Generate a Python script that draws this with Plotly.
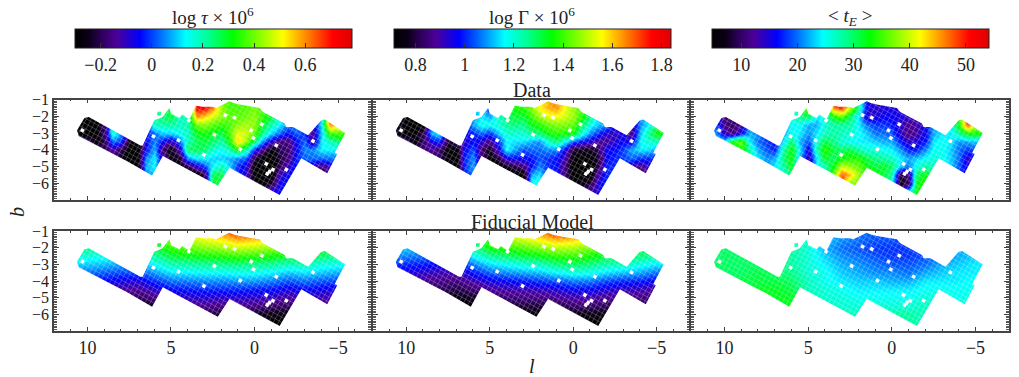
import numpy as np
import plotly.graph_objects as go

W, H = 1019, 377
SERIF = "Liberation Serif"

L_COARSE = [11, 10, 9, 8, 7, 6, 5, 4, 3, 2, 1, 0, -1, -2, -3, -4, -5, -6]
L_FINE = [11,10.5,10,9.5,9,8.5,8,7.5,7,6.5,6,5.5,5,4.5,4,3.5,3,2.5,2,1.5,1,.5,0,-.5,-1,-1.5,-2,-2.5,-3,-3.5,-4,-4.5,-5,-5.5,-6]
B_ROWS = [-1, -1.5, -2, -2.5, -3, -3.5, -4, -4.5, -5, -5.5, -6, -6.5, -7]

# data maps: one entry per L_FINE column = (index of first B_ROWS row read, values read downward)
TAU_DATA = [
 (4,[-.3,-.2]),(4,[-.3,-.18]),(3,[-.3,-.3,-.16]),(3,[-.3,-.3,-.28,-.16]),(4,[-.17,-.2,-.2]),
 (4,[.18,.03,-.12,-.18]),(4,[.05,0,-.2,-.25]),(4,[-.1,-.28,-.3,-.3]),(5,[-.28,-.3,-.3,-.3]),
 (4,[-.05,-.05,-.05,.05,.08,.05]),(3,[.2,.03,.05,.08,.13,.13,.1]),(2,[.25,.2,.1,-.05,-.18,-.1]),
 (2,[.28,.22,.1,-.12,-.28,-.25]),(3,[.18,.15,.03,-.1,-.25,-.25]),(3,[.2,.18,.2,.26,.05,-.22,-.3]),
 (1,[.72,.6,.4,.3,.26,.27,.12,-.1,-.3]),(1,[.72,.55,.42,.32,.28,.25,.13,0,-.2]),
 (1,[.62,.48,.38,.3,.25,.18,.1,.13,.27,.3]),(1,[.42,.42,.35,.27,.2,.14,.1,.2,.27,.27]),
 (0,[.35,.37,.38,.37,.38,.32,.2,.08,.1]),(1,[.37,.38,.42,.5,.55,.33,.05,-.02,-.02]),
 (1,[.38,.4,.44,.47,.42,.2,0,-.08,-.1]),(1,[.4,.42,.42,.38,.25,-.03,-.22,-.3,-.3,-.3]),
 (1,[.37,.35,.3,.22,.05,-.15,-.3,-.3,-.3,-.28,-.15]),(2,[.28,.2,.1,-.1,-.28,-.3,-.3,-.3,-.22,-.05]),
 (3,[.13,.02,-.16,-.2,-.22,-.2,-.1,-.05]),(3,[.05,-.05,-.17,-.18,-.17,-.1,-.05]),
 (3,[.05,.02,-.05,-.05,-.02,-.03]),(3,[.03,-.02,.03,.05,.02]),(3,[-.12,-.14,-.15,.05,.03,-.13]),
 (3,[.13,.1,.13,.13,.02,-.16,-.28]),(3,[.62,.35,.18,.13,.03,-.1]),(3,[.55,.36,.25,.13,.02]),
 (3,[.55,.36,.25,.13,.02]),(3,[.55,.36,.25,.13,.02]),
]
GAMMA_DATA = [
 (4,[.75,.8]),(4,[.75,.85]),(3,[.72,.72,.84]),(3,[.71,.73,.74,.85]),(3,[.72,.82,.83,.85]),
 (4,[1.1,.95,.87,.86]),(4,[1.15,1.0,.84,.82]),(5,[.78,.72,.72,.75]),(5,[.85,.72,.71,.71]),
 (4,[.96,.93,.97,1.0,1.0,1.0]),(3,[1.1,1.0,.98,1.03,1.08,1.1,1.05]),(2,[1.15,1.18,1.05,.93,.84,.85]),
 (1,[.98,1.1,1.18,1.0,.86,.76,.74]),(2,[1.2,1.2,1.12,1.0,.95,.78,.74]),(2,[1.28,1.25,1.2,1.16,1.17,.95,.75]),
 (1,[1.36,1.32,1.27,1.2,1.14,1.1,.97,.8,.72]),(1,[1.38,1.32,1.26,1.2,1.14,1.03,.97,.85,.72]),
 (1,[1.45,1.4,1.34,1.26,1.1,1.05,.98,.98,1.1,1.18]),(0,[1.52,1.56,1.47,1.38,1.28,1.08,1.05,1.03,1.07,1.14,1.18]),
 (0,[1.62,1.62,1.53,1.43,1.35,1.2,1.08,1.0,1.0]),(0,[1.66,1.64,1.55,1.45,1.38,1.28,1.07,.98,.98,1.0]),
 (1,[1.55,1.52,1.45,1.36,1.17,.97,.9,.85,.85]),(1,[1.47,1.47,1.42,1.35,1.04,.78,.72,.71,.71,.72]),
 (1,[1.4,1.38,1.3,1.2,.98,.77,.71,.71,.71,.75,.85]),(2,[1.26,1.18,1.07,.93,.76,.71,.71,.72,.8,.9]),
 (3,[1.12,1.0,.88,.83,.8,.82,.9,.95]),(3,[1.1,.92,.88,.97,.97,1.0,1.0]),(4,[.92,.94,.98,1.0,1.0]),
 (4,[.96,.97,1.02,1.02]),(3,[.88,.86,.95,1.1,1.05,.88]),(3,[1.08,1.12,1.16,1.15,1.0,.86,.82]),
 (3,[1.15,1.25,1.2,1.14,1.0,.92]),(3,[1.3,1.35,1.22,1.1,.98]),(3,[1.3,1.35,1.22,1.1,.98]),(3,[1.3,1.35,1.22,1.1,.98]),
]
TE_DATA = [
 (3,[18,21,24]),(3,[18,21,24]),(3,[11,14,24]),(3,[10,11,34,30]),(3,[12,17,36,34]),
 (4,[22,24,28,27]),(4,[21,20,22,24]),(5,[18,19,21,22]),(5,[17,17,22,24]),
 (4,[22,24,28,30,28,27]),(3,[25,25,30,33,33,32,30]),(2,[29,25,24,22,24,22]),
 (1,[40,30,22,21,19,15,13]),(2,[24,22,24,26,28,24,25]),(2,[26,26,27,31,34,32,27]),
 (1,[47,33,28,28,29,31,30,33,36]),(1,[50,36,28,27,26,30,33,40,48]),
 (1,[40,30,28,26,25,31,34,38,44,37]),(1,[28,24,24,25,24,28,34,36,38,37]),
 (1,[16,14,20,23,24,26,31,33]),(0,[14,14,15,18,20,23,26,29,31,33]),
 (1,[15,16,18,20,22,25,28,32,31]),(1,[15,16,17,19,22,24,27,30,28,25]),
 (2,[15,14,14,17,21,24,23,8,6,20]),(2,[14,12,11,14,17,22,20,12,10,25]),
 (3,[13,13,15,17,23,26,30,33]),(3,[16,16,17,21,25,28,33]),(4,[22,24,25,26,27]),
 (4,[24,25,25,25]),(3,[26,24,24,23,23,23]),(3,[33,28,21,20,20,19,18]),
 (3,[49,33,22,18,14,15]),(3,[38,33,23,19,17]),(3,[38,33,23,19,17]),(3,[38,33,23,19,17]),
]
# model maps: one list per L_COARSE column, values for B_ROWS
TAU_MODEL = [
 [.22,.22,.22,.17,.11,.04,-.03,-.1,-.16,-.16,-.16,-.16,-.16],
 [.22,.22,.22,.16,.1,.03,-.03,-.1,-.16,-.16,-.16,-.16,-.16],
 [.2,.2,.2,.15,.09,.01,-.05,-.11,-.17,-.17,-.17,-.17,-.17],
 [.18,.18,.18,.14,.07,0,-.07,-.13,-.19,-.25,-.25,-.25,-.25],
 [.16,.16,.16,.12,.05,0,-.08,-.14,-.2,-.27,-.3,-.3,-.3],
 [.28,.28,.28,.21,.14,.06,-.02,-.09,-.16,-.25,-.3,-.3,-.3],
 [.42,.42,.35,.28,.2,.11,.03,-.04,-.12,-.2,-.25,-.25,-.25],
 [.46,.46,.38,.3,.21,.12,.04,-.03,-.1,-.16,-.22,-.22,-.22],
 [.56,.5,.41,.32,.22,.13,.05,-.02,-.09,-.15,-.2,-.25,-.25],
 [.62,.53,.43,.33,.23,.13,.05,-.02,-.1,-.16,-.23,-.27,-.27],
 [.7,.58,.46,.35,.24,.14,.06,-.02,-.09,-.15,-.22,-.27,-.27],
 [.68,.56,.45,.34,.23,.14,.06,-.03,-.1,-.16,-.24,-.3,-.3],
 [.62,.52,.42,.32,.22,.12,.04,-.04,-.11,-.18,-.26,-.3,-.3],
 [.47,.44,.36,.29,.19,.09,.01,-.07,-.14,-.2,-.26,-.3,-.3],
 [.34,.34,.32,.28,.2,.11,.03,-.04,-.11,-.17,-.17,-.17,-.17],
 [.3,.3,.3,.25,.16,.09,.01,-.06,-.12,-.18,-.18,-.18,-.18],
 [.27,.27,.27,.22,.15,.07,0,-.07,-.13,-.18,-.18,-.18,-.18],
 [.27,.27,.27,.22,.15,.07,0,-.07,-.13,-.18,-.18,-.18,-.18],
]
GAMMA_MODEL = [
 [1.12,1.12,1.12,1.07,1.0,.95,.88,.84,.84,.84,.84,.84,.84],
 [1.12,1.12,1.12,1.07,1.0,.94,.88,.84,.84,.84,.84,.84,.84],
 [1.1,1.1,1.1,1.05,.99,.92,.87,.83,.8,.8,.8,.8,.8],
 [1.08,1.08,1.08,1.04,.97,.9,.86,.82,.78,.75,.75,.75,.75],
 [1.05,1.05,1.05,1.02,.95,.9,.85,.8,.75,.71,.71,.71,.71],
 [1.25,1.25,1.25,1.16,1.07,.98,.9,.84,.77,.71,.71,.71,.71],
 [1.42,1.42,1.35,1.25,1.14,1.04,.95,.88,.82,.77,.74,.74,.74],
 [1.48,1.48,1.38,1.28,1.17,1.07,.97,.9,.84,.78,.74,.74,.74],
 [1.56,1.52,1.41,1.31,1.2,1.09,.99,.91,.85,.79,.74,.72,.72],
 [1.66,1.57,1.45,1.34,1.22,1.11,1.01,.92,.85,.79,.74,.72,.72],
 [1.76,1.62,1.49,1.38,1.27,1.15,1.03,.94,.87,.8,.74,.72,.72],
 [1.74,1.6,1.48,1.39,1.29,1.18,1.06,.97,.89,.83,.76,.71,.71],
 [1.67,1.52,1.44,1.36,1.27,1.17,1.06,.97,.89,.83,.75,.71,.71],
 [1.52,1.44,1.37,1.31,1.23,1.13,1.02,.94,.87,.81,.75,.71,.71],
 [1.35,1.33,1.31,1.28,1.22,1.11,1.0,.92,.86,.8,.8,.8,.8],
 [1.31,1.31,1.31,1.27,1.18,1.09,.99,.91,.85,.8,.8,.8,.8],
 [1.28,1.28,1.28,1.24,1.15,1.05,.96,.89,.83,.8,.8,.8,.8],
 [1.28,1.28,1.28,1.24,1.15,1.05,.96,.89,.83,.8,.8,.8,.8],
]
TE_MODEL = [
 [30,30,30,30,30,30,30,30,30,30,30,30,30],
 [30,30,30,30,30,30,30,30,30,30,30,30,30],
 [30,30,30,30,30,30,31,31,31,31,31,31,31],
 [30,30,30,30,30,31,31,32,32,32,32,32,32],
 [29,29,29,29,30,30,31,32,32,32,32,32,32],
 [28,28,28,28,28,29,30,31,32,32,32,32,32],
 [26,26,26,26,26,26,27,27,28,28,28,28,28],
 [23,23,22,23,24,25,25,26,26,27,27,27,27],
 [21,21,20,21,22,23,24,25,26,26,27,27,27],
 [20,20,19,20,21,22,23,24,25,26,27,27,27],
 [19,19,18,19,20,21,23,24,25,26,27,27,27],
 [19,19,18,18,19,21,22,24,25,26,28,28,28],
 [18,18,18,18,19,20,22,24,25,26,28,28,28],
 [19,19,19,19,20,22,24,25,26,27,27,27,27],
 [21,21,21,21,22,23,24,25,25,26,26,26,26],
 [22,22,22,22,23,24,24,25,25,26,26,26,26],
 [23,23,23,23,24,24,25,25,26,26,26,26,26],
 [23,23,23,23,24,24,25,25,26,26,26,26,26],
]

# survey footprint outline and lone cell, (l, b)
OUTLINE_L = [10.62,10.18,9.92,8.48,7.09,6.83,6.69,6.05,6.0,5.5,5.09,5.0,4.5,4.33,3.9,3.5,3.1,2.5,2.3,1.5,1.3,.9,.4,-.3,-.5,-1.8,-1.9,-2.3,-3.2,-4.0,-4.2,-5.43,-4.8,-4.95,-4.35,-2.8,-1.5,1.5,2.2,5.49,6.13,7.52,7.62,10.52]
OUTLINE_B = [-2.84,-2.10,-2.04,-2.84,-3.6,-3.74,-3.74,-2.44,-2.24,-2.04,-1.5,-1.84,-2.1,-1.9,-2.18,-1.38,-1.44,-1.44,-1.5,-1.1,-1.2,-1.3,-1.4,-1.5,-1.74,-2.44,-2.64,-2.64,-3.14,-2.24,-2.2,-3.0,-4.18,-4.26,-5.4,-4.5,-6.7,-5.08,-6.14,-4.38,-5.54,-4.78,-4.68,-3.18]
LONE_L = [5.82, 5.6, 5.6, 5.82]
LONE_B = [-1.73, -1.73, -1.95, -1.95]
# missing cells
GAP_L = [10.3,6.05,4.55,3.03,2.4,1.75,1.2,.2,.06,-.44,.86,-1.3,-.7,-1.9,-1.1,-.9,-.76,-3.5,3.93]
GAP_B = [-2.84,-3.2,-3.44,-4.3,-3.1,-1.94,-2.08,-2.84,-3.3,-2.48,-3.98,-3.74,-4.84,-5.18,-5.18,-5.3,-5.44,-3.48,-2.24]

COLOR_STOPS = [[0,"#000000"],[.05,"#0c0018"],[.10,"#300060"],[.15,"#4c0098"],[.235,"#0000ff"],
               [.32,"#0080ff"],[.40,"#00ffff"],[.48,"#00ff96"],[.57,"#00ff00"],[.66,"#80ff00"],
               [.75,"#ffff00"],[.84,"#ff8000"],[.93,"#ff0000"],[1,"#e00000"]]

COL_PX = [(54, 371.5), (372.8, 690), (691, 1009)]
ROW_PX = [(99.5, 200), (231, 331)]
THETA = np.radians(29)
STEP = 0.27

def full_columns(cols):
    out = []
    for start, vals in cols:
        col = [vals[0]]*start + list(vals)
        col += [vals[-1]]*(len(B_ROWS)-len(col))
        out.append(col)
    return out

PANELS = [[(L_FINE, full_columns(TAU_DATA)), (L_FINE, full_columns(GAMMA_DATA)), (L_FINE, full_columns(TE_DATA))],
          [(L_COARSE, TAU_MODEL), (L_COARSE, GAMMA_MODEL), (L_COARSE, TE_MODEL)]]

# rotated grid lines between cells
gx, gy = [], []
for off in np.arange(-30, 30, STEP):
    cx, cy = -off*np.sin(THETA), -4 + off*np.cos(THETA)
    gx += [cx+25*np.cos(THETA), cx-25*np.cos(THETA), None]
    gy += [cy+25*np.sin(THETA), cy-25*np.sin(THETA), None]
    cx, cy = off*np.cos(THETA), -4 + off*np.sin(THETA)
    gx += [cx-25*np.sin(THETA), cx+25*np.sin(THETA), None]
    gy += [cy+25*np.cos(THETA), cy-25*np.cos(THETA), None]

box_l, box_b = [12.5, 12.5, -7.5, -7.5, 12.5], [-.5, -7.5, -7.5, -.5, -.5]
mask_x = box_l + [None] + OUTLINE_L + OUTLINE_L[:1] + [None] + LONE_L + LONE_L[:1]
mask_y = box_b + [None] + OUTLINE_B + OUTLINE_B[:1] + [None] + LONE_B + LONE_B[:1]

fig = go.Figure()
layout = dict(width=W, height=H, margin=dict(l=0, r=0, t=0, b=0, autoexpand=False),
              paper_bgcolor="white", plot_bgcolor="white", showlegend=False,
              font=dict(family=SERIF, size=18, color="#222"))

n = 0
for r, rowp in enumerate(ROW_PX):
    for c, colp in enumerate(COL_PX):
        n += 1
        xa, ya = f"x{n}", f"y{n}"
        lvals, cols = PANELS[r][c]
        fig.add_heatmap(x=lvals, y=B_ROWS, z=np.array(cols, float).T, zsmooth="best",
                        coloraxis=f"coloraxis{c+1}", xaxis=xa, yaxis=ya, hoverinfo="skip")
        fig.add_scatter(x=gx, y=gy, mode="lines", line=dict(color="rgba(255,255,255,.38)", width=.6),
                        xaxis=xa, yaxis=ya, hoverinfo="skip")
        fig.add_scatter(x=GAP_L, y=GAP_B, mode="markers",
                        marker=dict(symbol="square", size=3.5, color="white", angle=29),
                        xaxis=xa, yaxis=ya, hoverinfo="skip")
        fig.add_scatter(x=mask_x, y=mask_y, mode="lines", fill="toself", fillcolor="white",
                        line=dict(width=0, color="white"), xaxis=xa, yaxis=ya, hoverinfo="skip")
        frame = dict(showline=True, linecolor="#444", linewidth=1.5, mirror="ticks", ticks="inside",
                     tickcolor="#444", showgrid=False, zeroline=False, layer="above traces")
        layout[f"xaxis{n}"] = dict(frame, domain=[colp[0]/W, colp[1]/W], range=[12, -7], anchor=ya,
                                   tickvals=[10, 5, 0, -5], ticklen=4, tickwidth=1,
                                   showticklabels=r == 1, tickfont=dict(size=18),
                                   minor=dict(dtick=1, ticklen=2, ticks="inside", tickcolor="#444"))
        layout[f"yaxis{n}"] = dict(frame, domain=[1-rowp[1]/H, 1-rowp[0]/H], range=[-7, -1], anchor=xa,
                                   tickvals=[-1, -2, -3, -4, -5, -6], ticklen=5, tickwidth=1,
                                   showticklabels=c == 0, tickfont=dict(size=16),
                                   minor=dict(tick0=0, dtick=.1, ticklen=3.5, ticks="inside",
                                              tickcolor="#555", tickwidth=1))

BAR_PX = [75, 393.5, 712]
BAR_LEN, BAR_TOP, BAR_H = 276.5, 29, 19

def cbar(x_px, vals, labels):
    return dict(orientation="h", lenmode="pixels", len=BAR_LEN, thicknessmode="pixels", thickness=BAR_H,
                x=x_px/W, xanchor="left", y=1-BAR_TOP/H, yanchor="top", xpad=0, ypad=0,
                tickvals=vals, ticktext=labels, ticks="inside", ticklen=5, tickcolor="#333",
                tickfont=dict(size=18), outlinewidth=1, outlinecolor="#222")

tv1 = [-.2, 0, .2, .4, .6]
tl1 = ["−0.2", "0", "0.2", "0.4", "0.6"]
tv2 = [.8, 1, 1.2, 1.4, 1.6, 1.8]
tl2 = ["0.8", "1", "1.2", "1.4", "1.6", "1.8"]
tv3 = [10, 20, 30, 40, 50]
tl3 = ["10", "20", "30", "40", "50"]
RANGES = [(-.3, .783), (.71, 1.837), (4.8, 54.1)]
MINORS = [[-.1, .1, .3, .5, .7], [.9, 1.1, 1.3, 1.5, 1.7], [15, 25, 35, 45]]
layout["coloraxis1"] = dict(colorscale=COLOR_STOPS, cmin=RANGES[0][0], cmax=RANGES[0][1], colorbar=cbar(BAR_PX[0], tv1, tl1))
layout["coloraxis2"] = dict(colorscale=COLOR_STOPS, cmin=RANGES[1][0], cmax=RANGES[1][1], colorbar=cbar(BAR_PX[1], tv2, tl2))
layout["coloraxis3"] = dict(colorscale=COLOR_STOPS, cmin=RANGES[2][0], cmax=RANGES[2][1], colorbar=cbar(BAR_PX[2], tv3, tl3))

shapes = []
for x0, (lo, hi), ms in zip(BAR_PX, RANGES, MINORS):
    for m in ms:
        px = x0 + (m-lo)/(hi-lo)*BAR_LEN
        shapes.append(dict(type="line", xref="paper", yref="paper", x0=px/W, x1=px/W,
                           y0=1-(BAR_TOP+BAR_H)/H, y1=1-(BAR_TOP+BAR_H-3)/H,
                           line=dict(color="#333", width=1)))
layout["shapes"] = shapes

def note(text, x, y, size=20, angle=0):
    return dict(text=text, x=x/W, y=1-y/H, xref="paper", yref="paper", showarrow=False,
                xanchor="center", yanchor="middle", font=dict(size=size), textangle=angle)

layout["annotations"] = [note("log <i>τ</i> × 10<sup>6</sup>", 213, 16, 19),
                         note("log Γ × 10<sup>6</sup>", 532, 16, 19),
                         note("&lt; <i>t<sub>E</sub></i> &gt;", 850, 17, 19),
                         note("Data", 532, 90), note("Fiducial Model", 532, 222),
                         note("<i>b</i>", 17, 212, 20, -90), note("<i>l</i>", 532, 366, 20)]
fig.update_layout(**layout)
fig.write_html("out.html", post_script="document.body.style.margin='0';",
               config={"displayModeBar": False})
